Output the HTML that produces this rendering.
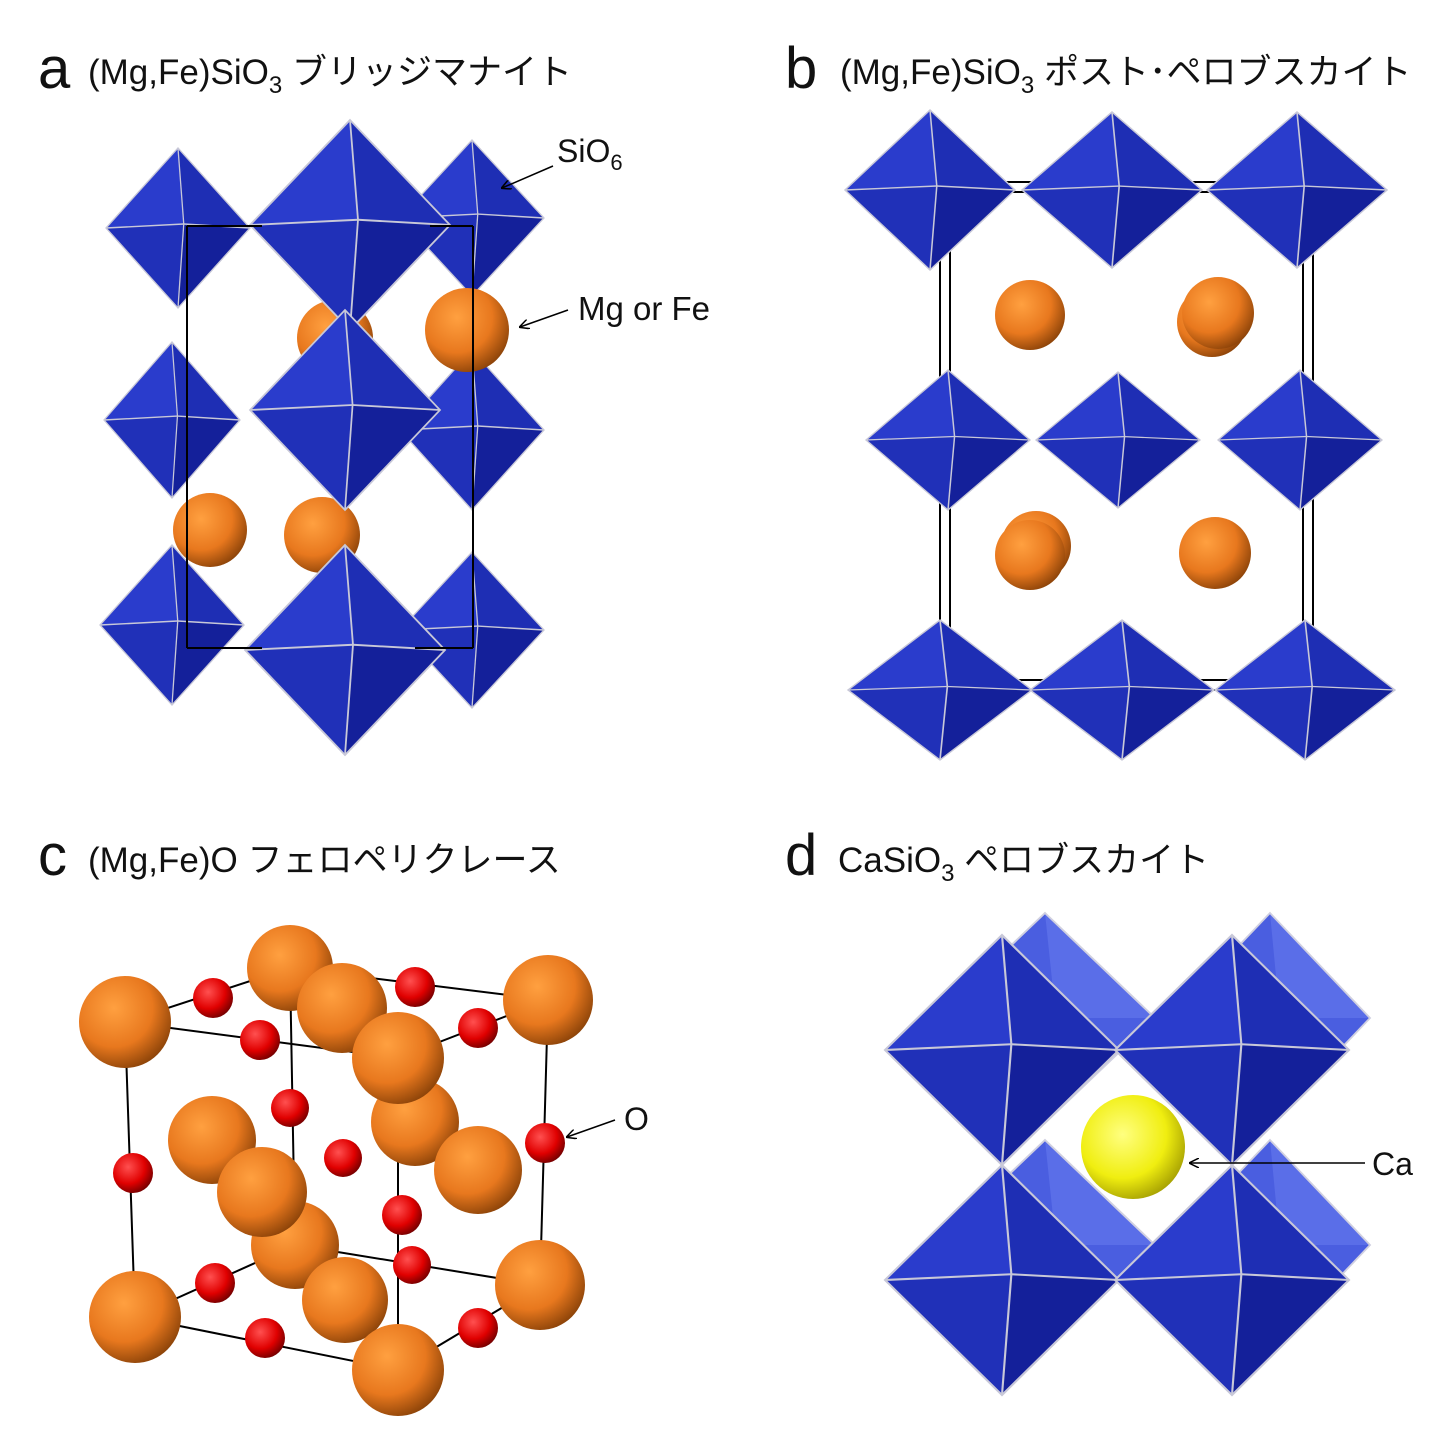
<!DOCTYPE html>
<html><head><meta charset="utf-8">
<style>
html,body{margin:0;padding:0;background:#fff;}
svg{display:block;}
.t{font-family:"Liberation Sans","Noto Sans CJK JP",sans-serif;fill:#111;}
</style></head>
<body>
<svg width="1440" height="1450" viewBox="0 0 1440 1450" xmlns="http://www.w3.org/2000/svg">
<defs>
  <radialGradient id="or" cx="0.38" cy="0.35" r="0.7">
    <stop offset="0" stop-color="#ffa040"/><stop offset="0.6" stop-color="#e8781e"/><stop offset="1" stop-color="#8a4208"/>
  </radialGradient>
  <radialGradient id="rd" cx="0.38" cy="0.35" r="0.7">
    <stop offset="0" stop-color="#ff5050"/><stop offset="0.6" stop-color="#e00000"/><stop offset="1" stop-color="#700000"/>
  </radialGradient>
  <radialGradient id="ye" cx="0.4" cy="0.38" r="0.7">
    <stop offset="0" stop-color="#ffff80"/><stop offset="0.6" stop-color="#f0ee10"/><stop offset="1" stop-color="#9a9400"/>
  </radialGradient>
  <g id="oct">
    <polygon points="0,-1 0.08,-0.05 -1,0" fill="#2a3ccc"/>
    <polygon points="0,-1 1,0 0.08,-0.05" fill="#1e2eb4"/>
    <polygon points="-1,0 0.08,-0.05 0,1" fill="#2030b8"/>
    <polygon points="0.08,-0.05 1,0 0,1" fill="#14209a"/>
    <g fill="none" stroke="#c8c8d8" stroke-width="0.018">
      <polygon points="0,-1 1,0 0,1 -1,0"/>
      <line x1="0" y1="-1" x2="0.08" y2="-0.05"/><line x1="1" y1="0" x2="0.08" y2="-0.05"/>
      <line x1="0" y1="1" x2="0.08" y2="-0.05"/><line x1="-1" y1="0" x2="0.08" y2="-0.05"/>
    </g>
  </g>
  <g id="octL">
    <polygon points="0,-1 1,0 0,1 -1,0" fill="#4a5ee0"/>
    <polygon points="0,-1 1,0 0.1,0" fill="#5a6ee8"/>
    <g fill="none" stroke="#d0d0e0" stroke-width="0.018"><polygon points="0,-1 1,0 0,1 -1,0"/></g>
  </g>
  <marker id="ah" markerWidth="10" markerHeight="10" refX="9" refY="5" orient="auto" markerUnits="userSpaceOnUse">
    <path d="M0,0 L10,5 L0,10" fill="none" stroke="#000" stroke-width="1.5"/>
  </marker>
</defs>
<rect width="1440" height="1450" fill="#fff"/>

<!-- Titles -->
<text class="t" x="38" y="88" font-size="58">a</text>
<text class="t" x="88" y="84" font-size="35">(Mg,Fe)SiO<tspan font-size="24" dy="9">3</tspan><tspan dy="-9"> ブリッジマナイト</tspan></text>
<text class="t" x="785" y="88" font-size="58">b</text>
<text class="t" x="840" y="84" font-size="35">(Mg,Fe)SiO<tspan font-size="24" dy="9">3</tspan><tspan dy="-9"> ポスト･ペロブスカイト</tspan></text>
<text class="t" x="38" y="875" font-size="58">c</text>
<text class="t" x="88" y="872" font-size="35">(Mg,Fe)O フェロペリクレース</text>
<text class="t" x="785" y="875" font-size="58">d</text>
<text class="t" x="838" y="872" font-size="35">CaSiO<tspan font-size="24" dy="9">3</tspan><tspan dy="-9"> ペロブスカイト</tspan></text>

<!-- Panel a -->
<g>
  <use href="#oct" transform="translate(472,218) scale(72,78)"/>
  <use href="#oct" transform="translate(472,430) scale(72,80)"/>
  <use href="#oct" transform="translate(472,630) scale(72,78)"/>
  <use href="#oct" transform="translate(178,228) scale(72,80)"/>
  <use href="#oct" transform="translate(172,420) scale(68,78)"/>
  <use href="#oct" transform="translate(172,625) scale(72,80)"/>
  <circle cx="335" cy="338" r="38" fill="url(#or)"/>
  <circle cx="210" cy="530" r="37" fill="url(#or)"/>
  <circle cx="322" cy="535" r="38" fill="url(#or)"/>
  <use href="#oct" transform="translate(350,225) scale(100,105)"/>
  <use href="#oct" transform="translate(345,410) scale(95,100)"/>
  <use href="#oct" transform="translate(345,650) scale(100,105)"/>
  <circle cx="467" cy="330" r="42" fill="url(#or)"/>
  <g stroke="#000" stroke-width="2" fill="none">
    <line x1="187" y1="226" x2="187" y2="648"/><line x1="473" y1="226" x2="473" y2="648"/>
    <line x1="187" y1="226" x2="262" y2="226"/><line x1="430" y1="226" x2="473" y2="226"/>
    <line x1="187" y1="648" x2="262" y2="648"/><line x1="415" y1="648" x2="473" y2="648"/>
  </g>
  <line x1="553" y1="166" x2="502" y2="188" stroke="#000" stroke-width="1.5" marker-end="url(#ah)"/>
  <text class="t" x="557" y="162" font-size="32">SiO<tspan font-size="22" dy="8">6</tspan></text>
  <line x1="568" y1="310" x2="520" y2="327" stroke="#000" stroke-width="1.5" marker-end="url(#ah)"/>
  <text class="t" x="578" y="320" font-size="33">Mg or Fe</text>
</g>

<!-- Panel b -->
<g>
  <g stroke="#000" stroke-width="2" fill="none">
    <rect x="940" y="192" width="363" height="498"/>
    <rect x="950" y="182" width="363" height="498"/>
  </g>
  <use href="#oct" transform="translate(930,190) scale(85,80)"/>
  <use href="#oct" transform="translate(1112,190) scale(90,78)"/>
  <use href="#oct" transform="translate(1297,190) scale(90,78)"/>
  <use href="#oct" transform="translate(948,440) scale(82,70)"/>
  <use href="#oct" transform="translate(1118,440) scale(82,68)"/>
  <use href="#oct" transform="translate(1300,440) scale(82,70)"/>
  <use href="#oct" transform="translate(940,690) scale(92,70)"/>
  <use href="#oct" transform="translate(1122,690) scale(92,70)"/>
  <use href="#oct" transform="translate(1305,690) scale(90,70)"/>
  <circle cx="1030" cy="315" r="35" fill="url(#or)"/>
  <circle cx="1212" cy="322" r="35" fill="url(#or)"/>
  <circle cx="1218" cy="313" r="36" fill="url(#or)"/>
  <circle cx="1036" cy="546" r="35" fill="url(#or)"/>
  <circle cx="1030" cy="555" r="35" fill="url(#or)"/>
  <circle cx="1215" cy="553" r="36" fill="url(#or)"/>
</g>

<!-- Panel c -->
<g>
  <g stroke="#000" stroke-width="2" fill="none">
    <polygon points="125,1022 398,1058 398,1370 135,1317"/>
    <polygon points="290,968 548,1000 540,1285 295,1245"/>
    <line x1="125" y1="1022" x2="290" y2="968"/><line x1="398" y1="1058" x2="548" y2="1000"/>
    <line x1="135" y1="1317" x2="295" y2="1245"/><line x1="398" y1="1370" x2="540" y2="1285"/>
  </g>
  <circle cx="290" cy="968" r="43" fill="url(#or)"/>
  <circle cx="548" cy="1000" r="45" fill="url(#or)"/>
  <circle cx="213" cy="998" r="20" fill="url(#rd)"/>
  <circle cx="415" cy="987" r="20" fill="url(#rd)"/>
  <circle cx="478" cy="1028" r="20" fill="url(#rd)"/>
  <circle cx="290" cy="1108" r="19" fill="url(#rd)"/>
  <circle cx="343" cy="1158" r="19" fill="url(#rd)"/>
  <circle cx="342" cy="1008" r="45" fill="url(#or)"/>
  <circle cx="125" cy="1022" r="46" fill="url(#or)"/>
  <circle cx="260" cy="1040" r="20" fill="url(#rd)"/>
  <circle cx="212" cy="1140" r="44" fill="url(#or)"/>
  <circle cx="415" cy="1122" r="44" fill="url(#or)"/>
  <circle cx="478" cy="1170" r="44" fill="url(#or)"/>
  <circle cx="398" cy="1058" r="46" fill="url(#or)"/>
  <circle cx="545" cy="1143" r="20" fill="url(#rd)"/>
  <circle cx="133" cy="1173" r="20" fill="url(#rd)"/>
  <circle cx="295" cy="1245" r="44" fill="url(#or)"/>
  <circle cx="262" cy="1192" r="45" fill="url(#or)"/>
  <circle cx="402" cy="1215" r="20" fill="url(#rd)"/>
  <circle cx="412" cy="1265" r="19" fill="url(#rd)"/>
  <circle cx="215" cy="1283" r="20" fill="url(#rd)"/>
  <circle cx="540" cy="1285" r="45" fill="url(#or)"/>
  <circle cx="345" cy="1300" r="43" fill="url(#or)"/>
  <circle cx="478" cy="1328" r="20" fill="url(#rd)"/>
  <circle cx="265" cy="1338" r="20" fill="url(#rd)"/>
  <circle cx="135" cy="1317" r="46" fill="url(#or)"/>
  <circle cx="398" cy="1370" r="46" fill="url(#or)"/>
  <line x1="615" y1="1120" x2="567" y2="1137" stroke="#000" stroke-width="1.5" marker-end="url(#ah)"/>
  <text class="t" x="624" y="1130" font-size="32">O</text>
</g>

<!-- Panel d -->
<g>
  <use href="#octL" transform="translate(1045,1018) scale(110,105)"/>
  <use href="#octL" transform="translate(1270,1018) scale(100,105)"/>
  <use href="#octL" transform="translate(1045,1245) scale(110,105)"/>
  <use href="#octL" transform="translate(1270,1245) scale(100,105)"/>
  <use href="#oct" transform="translate(1002,1050) scale(117,115)"/>
  <use href="#oct" transform="translate(1232,1050) scale(117,115)"/>
  <circle cx="1133" cy="1147" r="52" fill="url(#ye)"/>
  <use href="#oct" transform="translate(1002,1280) scale(117,115)"/>
  <use href="#oct" transform="translate(1232,1280) scale(117,115)"/>
  <line x1="1365" y1="1163" x2="1190" y2="1163" stroke="#000" stroke-width="1.5" marker-end="url(#ah)"/>
  <text class="t" x="1372" y="1175" font-size="32">Ca</text>
</g>
</svg>
</body></html>
